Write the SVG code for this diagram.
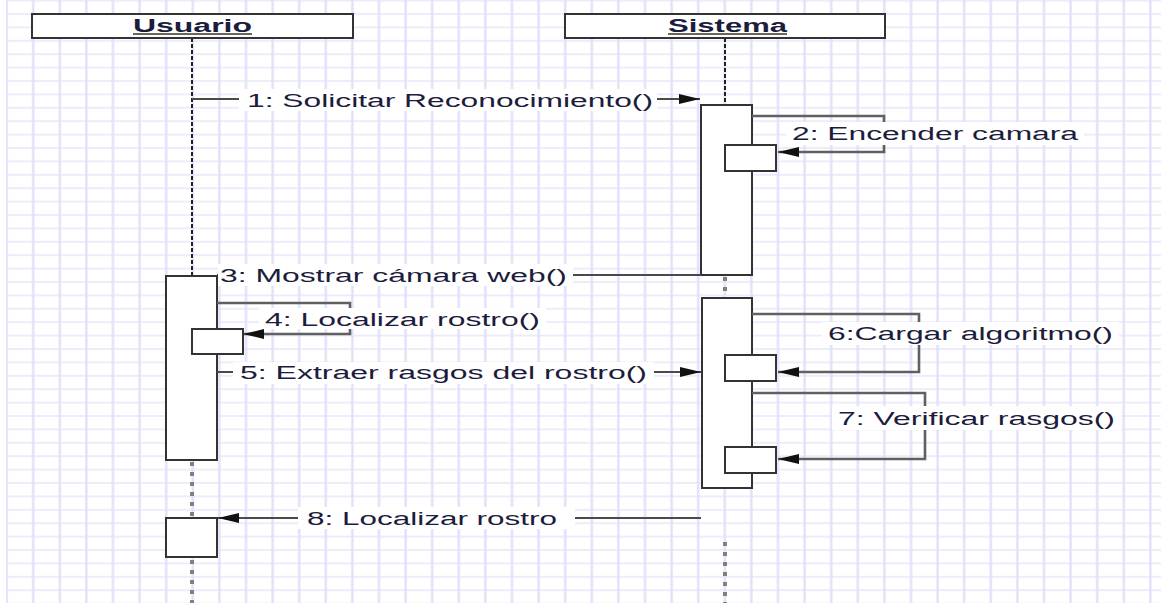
<svg xmlns="http://www.w3.org/2000/svg" width="1161" height="603" viewBox="0 0 1161 603">
<style>
.box{fill:#fff;stroke:#333;stroke-width:2}
.head{font-family:"Liberation Sans",Arial,sans-serif;font-size:18px;font-weight:bold;fill:#1c1c3c}
.lbl{font-family:"Liberation Sans",Arial,sans-serif;font-size:18px;fill:#1c1c3c}
.bg{fill:#fff}
.msg{fill:none;stroke:#4a4a4a;stroke-width:2}
.self{fill:none;stroke:#606060;stroke-width:2.6}
.dash{stroke:#222;stroke-width:2;stroke-dasharray:4 2}
.dot{stroke:#808080;stroke-width:4;stroke-dasharray:4 6}
</style>
<defs>
<pattern id="grid" patternUnits="userSpaceOnUse" x="-6.7" y="-6.1" width="26.6" height="13.4">
<line x1="0" y1="6.7" x2="26.6" y2="6.7" stroke="#e8e8f9" stroke-width="1.6"/>
<line x1="13.3" y1="0" x2="13.3" y2="13.4" stroke="#e0e0fa" stroke-width="2.4"/>
</pattern>
<marker id="arr" markerUnits="userSpaceOnUse" markerWidth="22" markerHeight="11" refX="21" refY="5" orient="auto">
<path d="M0,0 L21,5 L0,10 z" fill="#111"/>
</marker>
</defs>
<rect width="1161" height="603" fill="#fff"/>
<rect x="6" y="0" width="1155" height="603" fill="url(#grid)"/>

<g id="lifelines">
<line class="dash" x1="192" y1="38" x2="192" y2="276"/>
<line class="dot" x1="192" y1="462" x2="192" y2="518"/>
<line class="dot" x1="192" y1="560" x2="192" y2="603"/>
<line class="dash" x1="725" y1="38" x2="725" y2="105"/>
<line class="dot" x1="725" y1="277" x2="725" y2="298"/>
<line class="dot" x1="725" y1="542" x2="725" y2="603"/>
</g>

<g id="usuario">
<rect class="box" x="32" y="14" width="321" height="24"/>
<text class="head" x="133" y="31.5" textLength="119" lengthAdjust="spacingAndGlyphs">Usuario</text>
<line x1="133" y1="34" x2="252" y2="34" stroke="#3a3020" stroke-width="1.5"/>
</g>
<g id="sistema">
<rect class="box" x="565" y="14" width="320" height="24"/>
<text class="head" x="668" y="31.5" textLength="119" lengthAdjust="spacingAndGlyphs">Sistema</text>
<line x1="668" y1="34" x2="787" y2="34" stroke="#3a3020" stroke-width="1.5"/>
</g>

<g id="activations">
<rect id="act-s1" class="box" x="701" y="105" width="51" height="170"/>
<rect id="act-u1" class="box" x="166" y="276" width="51" height="184"/>
<rect id="act-s2" class="box" x="702" y="298" width="50" height="190"/>
<rect id="act-u2" class="box" x="166" y="518" width="51" height="39"/>
</g>

<g id="connectors">
<line class="msg" x1="192" y1="99" x2="700" y2="99" marker-end="url(#arr)"/>
<path class="self" d="M752,116 H884 V152 H778" marker-end="url(#arr)"/>
<line class="msg" x1="701" y1="275" x2="217" y2="275" marker-end="url(#arr)"/>
<path class="self" d="M217,303 H350 V334 H243" marker-end="url(#arr)"/>
<line class="msg" x1="217" y1="372" x2="701" y2="372" marker-end="url(#arr)"/>
<path class="self" d="M752,314 H919 V372 H778" marker-end="url(#arr)"/>
<path class="self" d="M752,393 H925 V459 H778" marker-end="url(#arr)"/>
<line class="msg" x1="701" y1="518" x2="218" y2="518" marker-end="url(#arr)"/>
</g>

<g id="nested">
<rect class="box" x="725" y="145" width="51" height="26"/>
<rect class="box" x="192" y="329" width="51" height="25"/>
<rect class="box" x="725" y="355" width="51" height="26"/>
<rect class="box" x="725" y="447" width="51" height="26"/>
</g>

<g id="labels">
<rect class="bg" x="239" y="89" width="418" height="22"/>
<text class="lbl" x="247" y="106.5" textLength="406" lengthAdjust="spacingAndGlyphs">1: Solicitar Reconocimiento()</text>
<rect class="bg" x="786" y="122" width="298" height="23"/>
<text class="lbl" x="792" y="139.5" textLength="286" lengthAdjust="spacingAndGlyphs">2: Encender camara</text>
<rect class="bg" x="218" y="264" width="355" height="22"/>
<text class="lbl" x="220" y="281.5" textLength="347" lengthAdjust="spacingAndGlyphs">3: Mostrar cámara web()</text>
<rect class="bg" x="259" y="308" width="287" height="21"/>
<text class="lbl" x="265" y="325.5" textLength="275" lengthAdjust="spacingAndGlyphs">4: Localizar rostro()</text>
<rect class="bg" x="233" y="362" width="421" height="22"/>
<text class="lbl" x="240" y="378.5" textLength="407" lengthAdjust="spacingAndGlyphs">5: Extraer rasgos del rostro()</text>
<rect class="bg" x="822" y="322" width="297" height="23"/>
<text class="lbl" x="828" y="339.5" textLength="285" lengthAdjust="spacingAndGlyphs">6:Cargar algoritmo()</text>
<rect class="bg" x="832" y="406" width="289" height="24"/>
<text class="lbl" x="838" y="424.5" textLength="277" lengthAdjust="spacingAndGlyphs">7: Verificar rasgos()</text>
<rect class="bg" x="298" y="507" width="277" height="22"/>
<text class="lbl" x="307" y="524.5" textLength="250" lengthAdjust="spacingAndGlyphs">8: Localizar rostro</text>
</g>
</svg>
